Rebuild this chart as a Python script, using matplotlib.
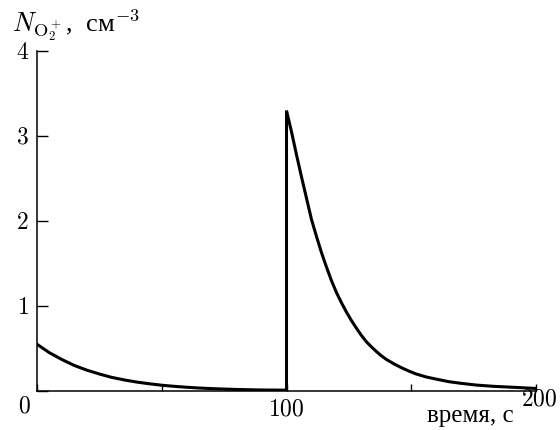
import matplotlib
matplotlib.use("Agg")
import matplotlib.pyplot as plt

plt.rcParams['font.family'] = ['Liberation Serif', 'DejaVu Serif']
plt.rcParams['mathtext.fontset'] = 'cm'

# ---------------- данные ----------------
# до включения (0..100 с): спад от начального значения
t_before = [0, 5, 10, 15, 20, 25, 30, 35, 40, 45, 50, 55, 60, 65, 70, 80, 90, 100]
n_before = [0.55, 0.45, 0.37, 0.30, 0.245, 0.20, 0.16, 0.13, 0.105, 0.085, 0.068,
            0.055, 0.044, 0.035, 0.028, 0.018, 0.012, 0.01]

# после скачка в 100 с
t_after = [100, 102, 104, 106, 108, 110, 112, 114, 116, 118, 120, 122, 124, 126,
           128, 130, 132, 134, 136, 138, 140, 143, 146, 149, 152, 156, 160, 165,
           170, 176, 183, 190, 200]
n_after = [3.30, 3.05, 2.78, 2.52, 2.27, 2.02, 1.82, 1.63, 1.46, 1.30, 1.16, 1.04,
           0.93, 0.83, 0.74, 0.655, 0.58, 0.52, 0.465, 0.415, 0.372, 0.32, 0.275,
           0.235, 0.20, 0.165, 0.14, 0.11, 0.09, 0.07, 0.055, 0.045, 0.03]

x_major = [0, 50, 100, 150, 200]
y_major = [0, 1, 2, 3, 4]

fig = plt.figure(figsize=(5.6, 4.3), dpi=100)
ax = fig.add_axes([37 / 560, 39 / 430, 499 / 560, 340 / 430])

ax.plot(t_before + t_after, n_before + n_after, color='black', lw=2.2,
        solid_joinstyle='miter')

ax.set_xlim(0, 200)
ax.set_ylim(0, 4)
ax.spines['top'].set_visible(False)
ax.spines['right'].set_visible(False)
for s in ('left', 'bottom'):
    ax.spines[s].set_linewidth(1.1)

ax.set_xticks(x_major)
ax.set_xticklabels(['', '', '$100$', '', ''], fontsize=17)
ax.set_yticks(y_major)
ax.set_yticklabels(['', '$1$', '$2$', '$3$', '$4$'], fontsize=17)
ax.tick_params(axis='x', direction='in', length=5, width=1.0, pad=6)
ax.tick_params(axis='y', direction='in', length=8, width=1.0, pad=6)

ax.annotate('$0$', xy=(0, 0), xytext=(-9, -4), textcoords='offset points',
            ha='center', va='top', fontsize=17)
ax.annotate('$200$', xy=(200, 0), xytext=(2, 1), textcoords='offset points',
            ha='center', va='top', fontsize=17)

fig.text(514 / 560, 8 / 430, 'время, с', ha='right', va='baseline', fontsize=18)
fig.text(12 / 560, 398 / 430, r'$N_{\mathrm{O}_2^+}$,  см$^{-3}$', ha='left',
         va='baseline', fontsize=19)

fig.savefig('out.png', dpi=100)
